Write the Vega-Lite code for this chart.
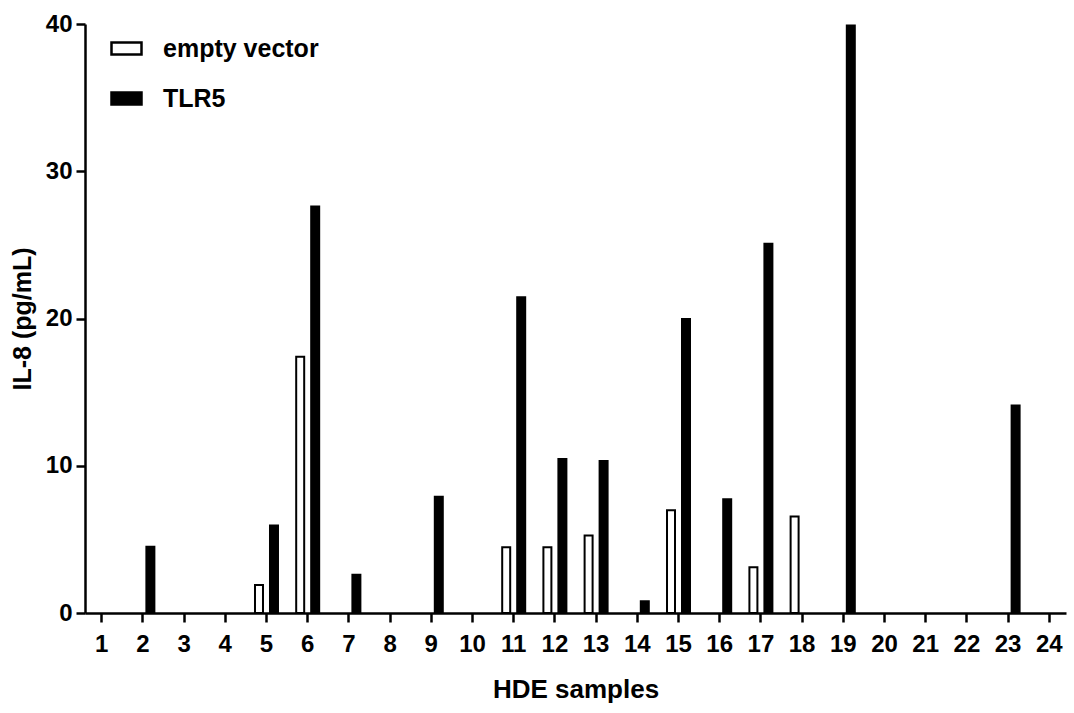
{
  "$schema": "https://vega.github.io/schema/vega-lite/v6.json",
  "width": 981,
  "height": 589,
  "autosize": {"type": "none"},
  "padding": {"left": 85, "top": 24, "right": 8, "bottom": 100},
  "background": "white",
  "data": {
    "values": [
      {"sample": 2, "series": "TLR5", "il8": 4.5},
      {"sample": 5, "series": "empty vector", "il8": 1.9},
      {"sample": 5, "series": "TLR5", "il8": 5.95},
      {"sample": 6, "series": "empty vector", "il8": 17.4},
      {"sample": 6, "series": "TLR5", "il8": 27.6},
      {"sample": 7, "series": "TLR5", "il8": 2.6},
      {"sample": 9, "series": "TLR5", "il8": 7.9},
      {"sample": 11, "series": "empty vector", "il8": 4.47},
      {"sample": 11, "series": "TLR5", "il8": 21.45},
      {"sample": 12, "series": "empty vector", "il8": 4.47},
      {"sample": 12, "series": "TLR5", "il8": 10.45},
      {"sample": 13, "series": "empty vector", "il8": 5.27},
      {"sample": 13, "series": "TLR5", "il8": 10.32},
      {"sample": 14, "series": "TLR5", "il8": 0.8},
      {"sample": 15, "series": "empty vector", "il8": 6.97},
      {"sample": 15, "series": "TLR5", "il8": 19.97},
      {"sample": 16, "series": "TLR5", "il8": 7.73},
      {"sample": 17, "series": "empty vector", "il8": 3.1},
      {"sample": 17, "series": "TLR5", "il8": 25.08},
      {"sample": 18, "series": "empty vector", "il8": 6.56},
      {"sample": 19, "series": "TLR5", "il8": 39.9},
      {"sample": 23, "series": "TLR5", "il8": 14.1}
    ]
  },
  "mark": {"type": "bar", "stroke": "black", "strokeWidth": 2},
  "encoding": {
    "x": {
      "field": "sample",
      "type": "ordinal",
      "title": "HDE samples",
      "scale": {
        "domain": [1, 2, 3, 4, 5, 6, 7, 8, 9, 10, 11, 12, 13, 14, 15, 16, 17, 18, 19, 20, 21, 22, 23, 24],
        "paddingInner": 0.442,
        "paddingOuter": 0.126
      },
      "axis": {
        "labelAngle": 0,
        "bandPosition": 0.5,
        "labelPadding": 10,
        "titlePadding": 20,
        "titleFontSize": 26
      }
    },
    "xOffset": {
      "field": "series",
      "type": "nominal",
      "scale": {"domain": ["empty vector", "TLR5"], "paddingInner": 0.467, "paddingOuter": 0}
    },
    "y": {
      "field": "il8",
      "type": "quantitative",
      "title": "IL-8 (pg/mL)",
      "scale": {"domain": [0, 40], "nice": false},
      "axis": {
        "values": [0, 10, 20, 30, 40],
        "labelPadding": 4,
        "titlePadding": 10,
        "titleFontSize": 25
      }
    },
    "fill": {
      "field": "series",
      "type": "nominal",
      "scale": {"domain": ["empty vector", "TLR5"], "range": ["white", "black"]},
      "legend": {
        "title": null,
        "orient": "none",
        "legendX": 25,
        "legendY": 8,
        "symbolType": "M-1,-0.4H1V0.4H-1Z",
        "symbolSize": 900,
        "symbolStrokeColor": "black",
        "symbolStrokeWidth": 2.5,
        "labelFontSize": 25,
        "labelLimit": 400,
        "labelFont": "Liberation Sans, Arial",
        "labelFontWeight": "bold",
        "labelColor": "black",
        "labelOffset": 20,
        "rowPadding": 20,
        "padding": 0
      }
    }
  },
  "config": {
    "view": {"stroke": null},
    "axis": {
      "grid": false,
      "domainColor": "black",
      "domainWidth": 2.5,
      "tickColor": "black",
      "tickWidth": 2.5,
      "tickSize": 9,
      "labelFont": "Liberation Sans, Arial",
      "labelFontWeight": "bold",
      "labelFontSize": 24,
      "labelColor": "black",
      "titleFont": "Liberation Sans, Arial",
      "titleFontWeight": "bold",
      "titleColor": "black"
    }
  }
}
